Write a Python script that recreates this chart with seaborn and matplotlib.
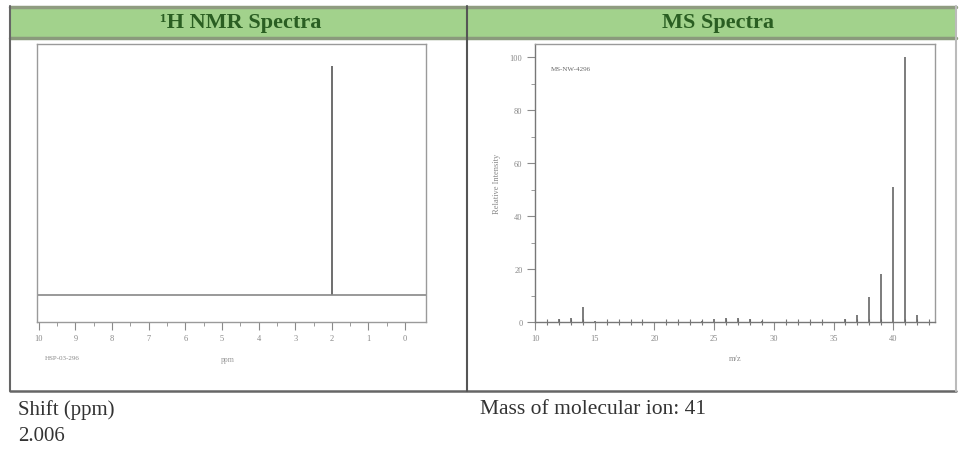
import matplotlib
matplotlib.use("Agg")
import matplotlib.pyplot as plt
from matplotlib.patches import Rectangle
from matplotlib.lines import Line2D
import seaborn as sns
import pandas as pd

# ---- data ----
nmr_shift = [2.006]
nmr_intensity = [1.0]
nmr_ticks = [10, 9, 8, 7, 6, 5, 4, 3, 2, 1, 0]

ms_mz = [12, 13, 14, 15, 24, 25, 26, 27, 28, 29, 36, 37, 38, 39, 40, 41, 42]
ms_intensity = [1.0, 1.5, 5.5, 0.5, 0.5, 1.0, 1.5, 1.5, 1.0, 0.5, 1.0, 2.5, 9.5, 18.0, 51.0, 100.0, 2.5]
ms_xticks = [10, 15, 20, 25, 30, 35, 40]
ms_yticks = [0, 20, 40, 60, 80, 100]

header_left = "\u00b9H NMR Spectra"
header_right = "MS Spectra"
foot_left1 = "Shift (ppm)"
foot_left2 = "2.006"
foot_right = "Mass of molecular ion: 41"

sns.set_theme(style="white")
plt.rcParams['font.family'] = ['Liberation Serif', 'DejaVu Serif']

W, H = 959, 452
fig = plt.figure(figsize=(W / 100, H / 100), dpi=100)
fig.patch.set_facecolor("white")

def fx(x):
    return x / W

def fy(y):
    return 1 - y / H

# ---- table frame ----
fig.patches.append(Rectangle((fx(10), fy(40)), fx(946), 32 / H, transform=fig.transFigure,
                             facecolor="#a2d28c", edgecolor="none", zorder=0))
for y, c, lw in [(7.5, "#8f9c80", 2.5), (39, "#8a9a7c", 2.5), (392, "#666666", 1.8)]:
    fig.add_artist(Line2D([fx(10), fx(956)], [fy(y), fy(y)], transform=fig.transFigure,
                          color=c, lw=lw))
for x, c in [(10, "#666666"), (467, "#555555"), (956, "#bbbbbb")]:
    fig.add_artist(Line2D([fx(x), fx(x)], [fy(7), fy(392)], transform=fig.transFigure,
                          color=c, lw=1.5))

fig.text(fx(241), fy(23), header_left, ha="center", va="center", fontsize=16,
         fontweight="bold", color="#2a5e22")
fig.text(fx(718), fy(23), header_right, ha="center", va="center", fontsize=16,
         fontweight="bold", color="#2a5e22")
fig.text(fx(18), fy(410), foot_left1, ha="left", va="center", fontsize=15, color="#333333")
fig.text(fx(18), fy(437), foot_left2, ha="left", va="center", fontsize=15, color="#333333")
fig.text(fx(480), fy(410), foot_right, ha="left", va="center", fontsize=15.5, color="#333333")

tick_col = "#8a8a8a"
spine_col = "#9a9a9a"

# ---- NMR ----
ax1 = fig.add_axes([fx(37), fy(323), 389 / W, 278 / H])
nmr_df = pd.DataFrame({"shift": nmr_shift, "intensity": nmr_intensity})
ax1.vlines(nmr_df["shift"], 0, nmr_df["intensity"], color="#555555", lw=1.2)
ax1.axhline(0, color="#888888", lw=1.2)
ax1.set_xlim(10.05, -0.57)
ax1.set_ylim(-0.118, 1.096)
ax1.set_xticks(nmr_ticks)
ax1.set_xticks([t + 0.5 for t in nmr_ticks[1:]], minor=True)
ax1.set_yticks([])
ax1.tick_params(axis="x", which="major", direction="out", length=6, width=0.8, color=tick_col,
                labelsize=6, labelcolor="#888888", pad=3, bottom=True)
ax1.tick_params(axis="x", which="minor", direction="out", length=3, width=0.6, color=tick_col, bottom=True)
for s in ax1.spines.values():
    s.set_color(spine_col)
    s.set_linewidth(1.0)
ax1.text(0.49, -0.12, "ppm", transform=ax1.transAxes, ha="center", va="top", fontsize=5.5, color="#999999")
ax1.text(0.02, -0.12, "HSP-03-296", transform=ax1.transAxes, ha="left", va="top", fontsize=5, color="#888888")

# ---- MS ----
ax2 = fig.add_axes([fx(535), fy(323), 400 / W, 278 / H])
ms_df = pd.DataFrame({"mz": ms_mz, "intensity": ms_intensity})
ax2.vlines(ms_df["mz"], 0, ms_df["intensity"], color="#666666", lw=1.2)
ax2.set_xlim(10, 43.5)
ax2.set_ylim(0, 105)
ax2.set_xticks(ms_xticks)
ax2.set_xticks(range(11, 44), minor=True)
ax2.set_yticks(ms_yticks)
ax2.set_yticks([10, 30, 50, 70, 90], minor=True)
ax2.tick_params(axis="both", which="major", direction="out", length=6, width=0.8, color=tick_col,
                labelsize=6, labelcolor="#888888", pad=3, bottom=True, left=True)
ax2.tick_params(axis="x", which="minor", direction="inout", length=4, width=0.8, color="#777777", bottom=True)
ax2.tick_params(axis="y", which="minor", direction="out", length=3, width=0.6, color=tick_col, left=True)
for s in ax2.spines.values():
    s.set_color(spine_col)
    s.set_linewidth(1.0)
ax2.spines["left"].set_color("#777777")
ax2.spines["bottom"].set_color("#777777")
ax2.set_xlabel("m/z", fontsize=6, color="#888888", labelpad=8)
ax2.set_ylabel("Relative Intensity", fontsize=6, color="#888888", labelpad=6)
ax2.text(0.04, 0.92, "MS-NW-4296", transform=ax2.transAxes, ha="left", va="top", fontsize=5, color="#666666")

fig.savefig("out.png", dpi=100, facecolor="white")
